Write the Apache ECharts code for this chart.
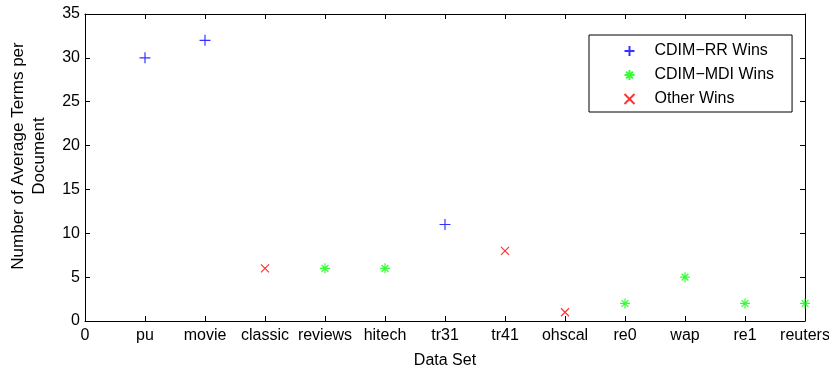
<!DOCTYPE html>
<html>
<head>
<meta charset="utf-8">
<script src="https://cdn.jsdelivr.net/npm/echarts@6/dist/echarts.min.js"></script>
<style>
  html, body { margin: 0; padding: 0; background: #fff; }
  #chart { width: 829px; height: 372px; }
</style>
</head>
<body>
<div id="chart"></div>
<script>
// tick labels along x (position 0 keeps its numeric label)
const xLabels = ['0', 'pu', 'movie', 'classic', 'reviews', 'hitech', 'tr31', 'tr41', 'ohscal', 're0', 'wap', 're1', 'reuters']
// average terms per document, one per data set (x = 1..12)
const terms = [30, 32, 6, 6, 6, 11, 8, 1, 2, 5, 2, 2]
// which method wins on each data set
const winner = ['rr', 'rr', 'other', 'mdi', 'mdi', 'rr', 'other', 'other', 'mdi', 'mdi', 'mdi', 'mdi']

const FONT = 'Liberation Sans, Arial, sans-serif'

const pick = key => terms
  .map((v, i) => (winner[i] === key ? [i + 1, v] : null))
  .filter(d => d)

const PLUS = 'path://M5,0L5,10M0,5L10,5'
const STAR = 'path://M5,0L5,10M0,5L10,5M1.6,1.6L8.4,8.4M1.6,8.4L8.4,1.6'
const CROSS = 'path://M0,0L10,10M0,10L10,0'

const mkSeries = (name, key, symbol, color, size) => ({
  name,
  type: 'scatter',
  data: pick(key),
  symbol,
  symbolSize: size,
  clip: false,
  itemStyle: { color: 'none', borderColor: color, borderWidth: 1.2 }
})

const chart = echarts.init(document.getElementById('chart'))

const tickStyle = { show: true, inside: true, length: 5, lineStyle: { color: '#000' } }
const lineStyle = { onZero: false, lineStyle: { color: '#000', width: 1 } }

chart.setOption({
  animation: false,
  grid: { left: 85, right: 24, top: 14, bottom: 51, outerBoundsMode: 'none', containLabel: false },
  xAxis: [
    {
      type: 'value', min: 0, max: 12, interval: 1,
      axisLine: lineStyle, axisTick: tickStyle, splitLine: { show: false },
      axisLabel: { color: '#000', fontFamily: FONT, fontSize: 16, margin: 7, formatter: v => xLabels[v] },
      name: 'Data Set', nameLocation: 'middle', nameGap: 32,
      nameTextStyle: { color: '#000', fontFamily: FONT, fontSize: 16 }
    },
    {
      type: 'value', min: 0, max: 12, interval: 1, position: 'top',
      axisLine: lineStyle, axisTick: tickStyle, splitLine: { show: false },
      axisLabel: { show: false }
    }
  ],
  yAxis: [
    {
      type: 'value', min: 0, max: 35, interval: 5,
      axisLine: lineStyle, axisTick: tickStyle, splitLine: { show: false },
      axisLabel: { color: '#000', fontFamily: FONT, fontSize: 16, margin: 5 }
    },
    {
      type: 'value', min: 0, max: 35, interval: 5, position: 'right',
      axisLine: lineStyle, axisTick: tickStyle, splitLine: { show: false },
      axisLabel: { show: false }
    }
  ],
  legend: {
    orient: 'vertical',
    left: 589, top: 35,
    padding: [8, 18, 5, 33],
    itemWidth: 10, itemHeight: 10, itemGap: 8,
    borderColor: '#000', borderWidth: 1, backgroundColor: '#fff',
    textStyle: { color: '#000', fontFamily: FONT, fontSize: 16, lineHeight: 14, padding: [0, 0, 0, 15] },
    data: ['CDIM−RR Wins', 'CDIM−MDI Wins', 'Other Wins']
  },
  graphic: [{
    type: 'text',
    x: 28.5, y: 156,
    rotation: Math.PI / 2,
    style: {
      text: 'Number of Average Terms per\nDocument',
      fill: '#000', font: '17px ' + FONT,
      align: 'center', verticalAlign: 'middle', lineHeight: 21
    }
  }],
  series: [
    mkSeries('CDIM−RR Wins', 'rr', PLUS, '#0000ff', 11),
    mkSeries('CDIM−MDI Wins', 'mdi', STAR, '#00ff00', 10),
    mkSeries('Other Wins', 'other', CROSS, '#ff0000', 8)
  ]
})
</script>
</body>
</html>
